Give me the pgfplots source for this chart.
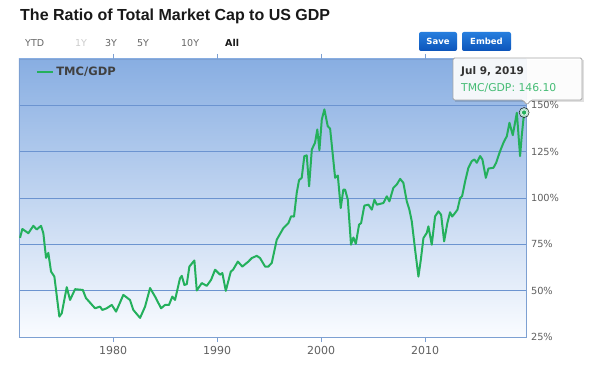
\documentclass[border=0pt]{standalone}
\usepackage{pgfplots}
\pgfplotsset{compat=1.18}
\usepackage{fontspec}
\setmainfont{DejaVu Sans}
\newfontfamily\arial{Liberation Sans}
\definecolor{tmc}{RGB}{36,176,92}
\definecolor{bgtop}{RGB}{136,174,226}
\definecolor{bgbot}{RGB}{250,252,255}
\definecolor{gridc}{RGB}{108,148,208}
\definecolor{framec}{RGB}{125,160,210}
\definecolor{tickc}{RGB}{96,96,96}
\definecolor{btntop}{RGB}{38,126,222}
\definecolor{btnbot}{RGB}{12,84,186}
\begin{document}
\begin{tikzpicture}
\fill[white] (0,0) rectangle (600pt,370pt);
\path[use as bounding box] (0,0) rectangle (600pt,370pt);
\begin{axis}[
  at={(19pt,33pt)}, anchor=south west,
  width=507pt, height=278pt, scale only axis,
  xmin=1970.96, xmax=2019.7, ymin=25, ymax=175,
  axis background/.style={top color=bgtop, bottom color=bgbot},
  axis line style={framec, line width=0.8pt},
  xtick={1980,1990,2000,2010},
  xticklabels={1980,1990,2000,2010},
  ytick={25,50,75,100,125,150},
  yticklabels={25\%,50\%,75\%,100\%,125\%,150\%},
  yticklabel pos=right,
  ymajorgrids,
  grid style={gridc, line width=0.7pt},
  tick align=outside,
  xtick style={framec, line width=0.8pt},
  major tick length=5pt,
  ytick style={draw=none},
  xticklabel style={font=\fontsize{11}{12}\selectfont, text=tickc, yshift=-1pt},
  yticklabel style={font=\fontsize{9.8}{11}\selectfont, text=tickc, anchor=west, xshift=-3.5pt},
  legend style={at={(0.028,0.953)}, anchor=west, draw=none, fill=none,
    font=\bfseries\fontsize{11.5}{13}\selectfont, text=black!75},
  legend image code/.code={\draw[tmc, line width=2pt] (0pt,0pt) -- (16pt,0pt);},
  clip=false,
]
\addplot[tmc, line width=2pt, line join=round] coordinates {
(1971.06,78.5) (1971.28,83.3) (1971.86,81) (1972.34,85) (1972.66,83) (1973.08,85)
(1973.30,81) (1973.56,67.7) (1973.78,70.4) (1974.04,60.3) (1974.36,57.6) (1974.84,36)
(1975.07,37.8) (1975.55,51.9) (1975.87,45) (1976.35,50.8) (1977.09,50.4) (1977.40,46)
(1978.27,40.5) (1978.75,41.4) (1978.97,39.6) (1979.39,40.5) (1979.88,42.3) (1980.29,38.7)
(1980.99,47.7) (1981.63,45) (1981.95,39.6) (1982.60,35.3) (1983.08,41.4) (1983.56,51.4)
(1984.04,46.8) (1984.62,40.5) (1985.00,42.3) (1985.38,42.3) (1985.70,46.8) (1985.96,45)
(1986.44,56.7) (1986.61,58) (1986.86,53.1) (1987.09,53.5) (1987.34,63) (1987.82,66.3)
(1988.05,50.1) (1988.53,54.1) (1989.01,52.6) (1989.42,55.8) (1989.81,61.3) (1990.29,58.6)
(1990.51,59.5) (1990.84,49.9) (1991.32,60.3) (1991.54,61.3) (1992.00,65.7) (1992.43,63)
(1993.01,65.7) (1993.34,67.6) (1993.82,68.8) (1994.13,67.6) (1994.62,63) (1994.93,63)
(1995.26,65) (1995.74,77.5) (1996.38,83.8) (1996.86,86.5) (1997.12,90.1) (1997.40,90)
(1997.66,102.8) (1997.88,109.6) (1998.14,110.9) (1998.39,122.6) (1998.62,123) (1998.85,106.3)
(1999.11,126.2) (1999.42,129.8) (1999.64,137) (1999.84,125.8) (2000.07,142.4) (2000.32,147.8)
(2000.48,143.3) (2000.64,138.8) (2000.87,137.4) (2001.35,110.9) (2001.61,112.1) (2001.89,94.6)
(2002.14,104.5) (2002.31,104.5) (2002.57,99.1) (2002.88,74.8) (2003.11,78.7) (2003.34,75.3)
(2003.65,85.6) (2003.85,86.5) (2004.16,95.9) (2004.55,96.4) (2004.88,93.7) (2005.13,99.1)
(2005.36,96.4) (2005.99,97.3) (2006.32,100.9) (2006.57,98.2) (2006.95,105.5) (2007.28,107.3)
(2007.60,110.3) (2007.91,108.2) (2008.24,98.2) (2008.49,93.7) (2008.72,87.4) (2009.04,72.1)
(2009.36,57.6) (2009.59,66.7) (2009.84,78.4) (2010.16,81.1) (2010.32,84.7) (2010.64,74.8)
(2010.96,90.1) (2011.28,92.8) (2011.54,91) (2011.83,76.6) (2012.14,86.5) (2012.40,92.3)
(2012.60,90) (2012.88,91.9) (2013.11,93.7) (2013.37,100) (2013.56,101) (2013.85,109)
(2014.16,116.3) (2014.49,119.9) (2014.74,120.8) (2014.97,119) (2015.29,122.6) (2015.51,120.8)
(2015.84,110.9) (2016.09,115.9) (2016.57,116.3) (2016.83,119) (2017.21,125.3) (2017.53,129.8)
(2017.86,133.4) (2018.11,140.6) (2018.43,133.9) (2018.82,146) (2019.13,122.6) (2019.29,133.4)
(2019.45,142.4) (2019.52,146.1)
};
\addlegendentry{TMC/GDP}
\addplot[only marks, mark=*, mark size=5pt, mark options={draw=none, fill=tmc!30, fill opacity=0.8}, forget plot] coordinates {(2019.52,146.1)};
\addplot[only marks, mark=*, mark size=2.6pt, mark options={draw=white, line width=0.5pt, fill=tmc}, forget plot] coordinates {(2019.52,146.1)};
\end{axis}
\begin{scope}[x=1pt, y=-1pt, shift={(0pt,370pt)}]
% title
\node[anchor=west, inner sep=0pt, font=\arial\bfseries\fontsize{16}{18}\selectfont, text=black!90] at (20,16) {The Ratio of Total Market Cap to US GDP};
% range selector
\begin{scope}[font=\fontsize{9.5}{11}\selectfont]
\node[anchor=west, inner sep=0pt, text=black!60] at (25,43) {YTD};
\node[anchor=west, inner sep=0pt, text=black!20] at (75,43) {1Y};
\node[anchor=west, inner sep=0pt, text=black!60] at (105,43) {3Y};
\node[anchor=west, inner sep=0pt, text=black!60] at (137,43) {5Y};
\node[anchor=west, inner sep=0pt, text=black!60] at (181,43) {10Y};
\node[anchor=west, inner sep=0pt, text=black!90, font=\bfseries\fontsize{9.5}{11}\selectfont] at (225,43) {All};
\end{scope}
% buttons
\shade[top color=btntop, bottom color=btnbot, rounded corners=2pt] (419,32) rectangle (457,51);
\shade[top color=btntop, bottom color=btnbot, rounded corners=2pt] (462,32) rectangle (511,51);
\node[text=white, font=\bfseries\fontsize{8.5}{10}\selectfont] at (438,41.5) {Save};
\node[text=white, font=\bfseries\fontsize{8.5}{10}\selectfont] at (486.5,41.5) {Embed};
% tooltip
\fill[black, opacity=0.12] (455,60) rectangle (584,102);
\draw[black!35, line width=0.8pt, fill=white, fill opacity=0.92, rounded corners=1.5pt]
  (453,58) -- (582,58) -- (582,100) -- (531,100) -- (527,105) -- (523,100) -- (453,100) -- cycle;
\node[anchor=west, inner sep=0pt, text=black!80, font=\bfseries\fontsize{10.5}{12}\selectfont] at (461,72) {Jul 9, 2019};
\node[anchor=west, inner sep=0pt, text=tmc!85!white, font=\fontsize{10.8}{12}\selectfont] at (461,88) {TMC/GDP: 146.10};
\end{scope}
\end{tikzpicture}
\end{document}
